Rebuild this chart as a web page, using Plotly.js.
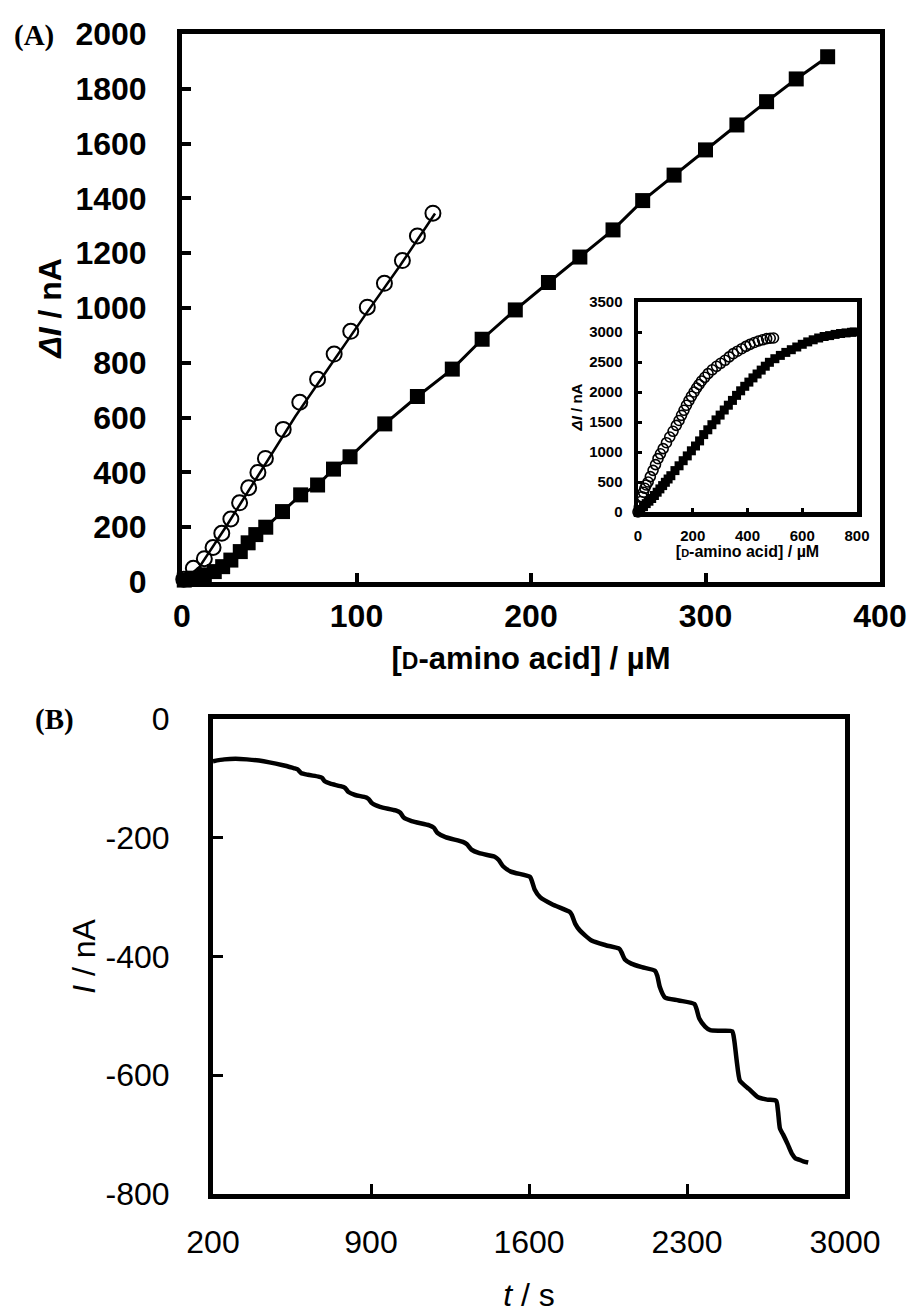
<!DOCTYPE html>
<html><head><meta charset="utf-8">
<script src="https://cdn.plot.ly/plotly-3.0.1.min.js"></script>
<style>body{margin:0;background:#fff}#chart{width:913px;height:1313px}</style>
</head><body><div id="chart"></div>
<script>
// ---- Panel A (main): filled squares
const sqX = [1.3, 7, 12.8, 18.5, 23.3, 28, 33.4, 37.9, 42.3, 48, 57.6, 68, 77.7, 86.8, 96.3, 116.2, 134.9, 154.9, 172, 191, 210, 228, 247, 264, 282, 300, 318, 335, 352, 370];
const sqY = [7, 14, 26, 38, 56, 80, 111, 143, 173, 200, 257, 318, 354, 412, 457, 577, 677, 777, 886, 993, 1093, 1186, 1285, 1392, 1485, 1577, 1668, 1753, 1836, 1917];
// ---- Panel A (main): open circles and their fitted curve
const circX = [1, 6.5, 12.8, 17.8, 22.8, 28, 33, 38.2, 43.5, 47.8, 58, 67.5, 77.7, 87.2, 96.7, 106.2, 116, 126.3, 134.9, 143.8];
const circY = [10, 50, 85, 126, 178, 230, 289, 344, 400, 451, 557, 656, 740, 832, 915, 1003, 1090, 1173, 1263, 1346];
const fitX = [0, 10, 25, 45, 65, 85, 105, 125, 145];
const fitY = [0, 55, 200, 405, 605, 790, 975, 1155, 1345];
// ---- Inset
const insCircX = [0, 5, 10, 15, 20, 25, 30, 37, 45, 55, 64, 73, 82, 92, 104, 116, 128, 140, 150, 159, 168, 177, 186, 195, 205, 214, 223, 232, 244, 256, 271, 287, 302, 318, 333, 348, 363, 379, 394, 409, 425, 440, 455, 470, 483, 495];
const insCircY = [0, 90, 175, 255, 330, 395, 450, 500, 590, 694, 790, 889, 970, 1056, 1155, 1250, 1345, 1444, 1525, 1611, 1695, 1778, 1855, 1928, 2000, 2067, 2125, 2183, 2245, 2306, 2370, 2428, 2478, 2528, 2585, 2639, 2680, 2722, 2760, 2794, 2825, 2850, 2870, 2889, 2896, 2900];
const insSqX = [0, 10, 20, 30, 40, 50, 60, 70, 80, 90, 100, 110, 120, 135, 150, 165, 180, 195, 210, 225, 240, 255, 270, 285, 300, 315, 330, 345, 360, 375, 390, 405, 420, 435, 450, 465, 480, 500, 520, 540, 560, 580, 600, 620, 640, 660, 680, 700, 720, 740, 760, 780, 790];
const insSqY = [0, 40, 90, 140, 180, 225, 275, 330, 385, 440, 495, 550, 605, 690, 770, 855, 935, 1020, 1100, 1185, 1290, 1370, 1455, 1535, 1615, 1700, 1780, 1860, 1944, 2020, 2095, 2165, 2235, 2300, 2365, 2430, 2495, 2555, 2610, 2660, 2705, 2750, 2795, 2835, 2870, 2900, 2925, 2940, 2960, 2975, 2985, 2995, 3000];
// ---- Panel B: amperometric trace
const tB = [200, 250, 300, 350, 404, 450, 510, 560, 575, 590, 620, 667, 683, 695, 720, 763, 785, 800, 830, 878, 890, 905, 940, 1009, 1030, 1045, 1080, 1158, 1178, 1195, 1230, 1307, 1325, 1345, 1380, 1448, 1465, 1485, 1520, 1605, 1612, 1625, 1649, 1702, 1781, 1790, 1805, 1825, 1877, 1940, 2000, 2010, 2025, 2053, 2100, 2158, 2168, 2180, 2202, 2263, 2333, 2342, 2355, 2380, 2403, 2450, 2500, 2509, 2520, 2534, 2555, 2574, 2615, 2655, 2695, 2703, 2712, 2726, 2746, 2766, 2780, 2796, 2815, 2837];
const iB = [-71, -68, -67, -68, -70, -73, -78, -83, -85, -91, -94, -97, -99, -105, -109, -113, -116, -123, -128, -132, -135, -142, -148, -154, -158, -166, -172, -179, -183, -192, -199, -207, -211, -220, -226, -232, -237, -248, -257, -266, -272, -287, -300, -312, -325, -330, -345, -356, -373, -381, -387, -393, -405, -412, -418, -424, -432, -452, -469, -474, -480, -488, -505, -518, -524, -525, -526, -540, -575, -609, -617, -623, -637, -641, -643, -660, -690, -700, -716, -733, -740, -742, -745, -747];
// tick labels
const aXTicks = [0, 100, 200, 300, 400];
const aYTicks = [0, 200, 400, 600, 800, 1000, 1200, 1400, 1600, 1800, 2000];
const bXTicks = [200, 900, 1600, 2300, 3000];
const bYTicks = [0, -200, -400, -600, -800];
const bYTickText = ['0', '-200', '-400', '-600', '-800'];
const insXTicks = [0, 200, 400, 600, 800];
const insYTicks = [0, 500, 1000, 1500, 2000, 2500, 3000, 3500];

const W = 913, H = 1313;
const fx = p => p / W, fy = p => 1 - p / H;
const SANS = 'Liberation Sans, Arial, sans-serif';
const SERIF = 'Liberation Serif, Times New Roman, serif';

const traces = [
  {x: fitX, y: fitY, xaxis: 'x', yaxis: 'y', mode: 'lines', line: {color: '#000', width: 2.5}, hoverinfo: 'skip'},
  {x: circX, y: circY, xaxis: 'x', yaxis: 'y', mode: 'markers', cliponaxis: false,
   marker: {symbol: 'circle-open', size: 15, color: '#000', line: {width: 2, color: '#000'}}},
  {x: sqX, y: sqY, xaxis: 'x', yaxis: 'y', mode: 'lines+markers', cliponaxis: false,
   line: {color: '#000', width: 3}, marker: {symbol: 'square', size: 15, color: '#000'}},
  {x: insSqX, y: insSqY, xaxis: 'x3', yaxis: 'y3', mode: 'markers', cliponaxis: false,
   marker: {symbol: 'square', size: 9, color: '#000'}},
  {x: insCircX, y: insCircY, xaxis: 'x3', yaxis: 'y3', mode: 'markers', cliponaxis: false,
   marker: {symbol: 'circle-open', size: 10, color: '#000', line: {width: 1.6, color: '#000'}}},
  {x: tB, y: iB, xaxis: 'x2', yaxis: 'y2', mode: 'lines', line: {color: '#000', width: 4.5, shape: 'spline', smoothing: 0.6}}
];

const frame = {showline: true, linecolor: '#000', mirror: true, showgrid: false, zeroline: false, ticks: 'inside', tickcolor: '#000'};

const layout = {
  width: W, height: H, margin: {l: 0, r: 0, t: 0, b: 0},
  paper_bgcolor: '#fff', plot_bgcolor: 'rgba(0,0,0,0)', showlegend: false,
  xaxis: Object.assign({}, frame, {domain: [fx(182), fx(880)], anchor: 'y', range: [0, 400], tickvals: aXTicks,
    linewidth: 5, ticklen: 9, tickwidth: 4, ticklabelstandoff: 2,
    tickfont: {family: SANS, size: 32, weight: 700, color: '#000'},
    title: {text: "[<span style='font-size:23px'>D</span>-amino acid] / µM", font: {family: SANS, size: 31, weight: 700, color: '#000'}, standoff: 15}}),
  yaxis: Object.assign({}, frame, {domain: [fy(582), fy(34)], anchor: 'x', range: [0, 2000], tickvals: aYTicks,
    linewidth: 5, ticklen: 9, tickwidth: 4, ticklabelstandoff: 24,
    tickfont: {family: SANS, size: 32, weight: 700, color: '#000'},
    title: {text: '<i>ΔI</i> / nA', font: {family: SANS, size: 32, weight: 700, color: '#000'}, standoff: 6}}),
  xaxis2: Object.assign({}, frame, {domain: [fx(213), fx(845)], anchor: 'y2', range: [200, 3000], tickvals: bXTicks,
    linewidth: 5, ticklen: 10, tickwidth: 3, ticklabelstandoff: 16,
    tickfont: {family: SANS, size: 32, color: '#000'},
    title: {text: '<i>t</i> / s', font: {family: SANS, size: 32, color: '#000'}, standoff: 41}}),
  yaxis2: Object.assign({}, frame, {domain: [fy(1194), fy(719)], anchor: 'x2', range: [-800, 0], tickvals: bYTicks, ticktext: bYTickText,
    linewidth: 5, ticklen: 10, tickwidth: 3, ticklabelstandoff: 32,
    tickfont: {family: SANS, size: 32, color: '#000'},
    title: {text: '<i>I</i> / nA', font: {family: SANS, size: 32, color: '#000'}, standoff: 2}}),
  xaxis3: Object.assign({}, frame, {domain: [fx(638), fx(857)], anchor: 'y3', range: [0, 800], tickvals: insXTicks,
    linewidth: 4.5, ticklen: 4, tickwidth: 3, ticklabelstandoff: 6,
    tickfont: {family: SANS, size: 15, weight: 700, color: '#000'},
    title: {text: "[<span style='font-size:11px'>D</span>-amino acid] / µM", font: {family: SANS, size: 16, weight: 700, color: '#000'}, standoff: 2}}),
  yaxis3: Object.assign({}, frame, {domain: [fy(512), fy(302)], anchor: 'x3', range: [0, 3500], tickvals: insYTicks,
    linewidth: 4.5, ticklen: 4, tickwidth: 3, ticklabelstandoff: 8,
    tickfont: {family: SANS, size: 15, weight: 700, color: '#000'},
    title: {text: '<i>ΔI</i> / nA', font: {family: SANS, size: 15, weight: 700, color: '#000'}, standoff: 4}}),
  annotations: [
    {text: '<b>(A)</b>', xref: 'paper', yref: 'paper', x: fx(34), y: fy(35), xanchor: 'center', yanchor: 'middle', showarrow: false,
     font: {family: SERIF, size: 29, color: '#000'}},
    {text: '<b>(B)</b>', xref: 'paper', yref: 'paper', x: fx(54), y: fy(719), xanchor: 'center', yanchor: 'middle', showarrow: false,
     font: {family: SERIF, size: 29, color: '#000'}}
  ]
};

Plotly.newPlot('chart', traces, layout, {displayModeBar: false, staticPlot: true});
</script>
</body></html>
